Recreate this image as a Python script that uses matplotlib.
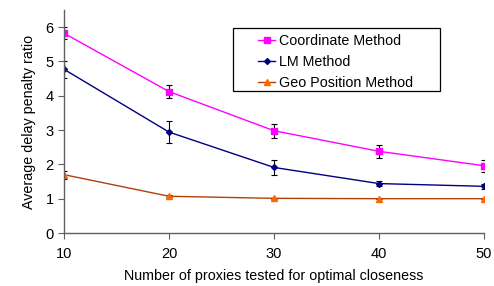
import matplotlib.pyplot as plt
from matplotlib.patches import Rectangle
import numpy as np

# データ
proxies = [10, 20, 30, 40, 50]
coord = [5.82, 4.12, 2.98, 2.38, 1.96]
coord_err = [0.18, 0.2, 0.2, 0.19, 0.17]
lm = [4.77, 2.94, 1.91, 1.44, 1.36]
lm_err = [0.25, 0.33, 0.21, 0.08, 0.07]
geo = [1.70, 1.07, 1.01, 1.0, 1.0]
geo_err = [0.12, 0.03, 0.02, 0.01, 0.01]

plt.rcParams['font.family'] = ['Liberation Sans', 'DejaVu Sans']
plt.rcParams['font.size'] = 9

fig = plt.figure(figsize=(4.94, 2.86), dpi=100)
ax = fig.add_axes([0.1296, 0.1853, 0.8504, 0.78])

ekw = dict(ecolor='black', elinewidth=0.8, capsize=2, capthick=0.8)
c1 = ax.errorbar(proxies, coord, yerr=coord_err, color='#FF00FF', marker='s', ms=4,
                 lw=1, label='Coordinate Method', **ekw)
c2 = ax.errorbar(proxies, lm, yerr=lm_err, color='#000080', marker='D', ms=3,
                 lw=1, label='LM Method', **ekw)
c3 = ax.errorbar(proxies, geo, yerr=geo_err, color='#B0400A', marker='^', ms=4,
                 mfc='#FF6600', mec='#FF6600', lw=1, label='Geo Position Method', **ekw)

ax.set_xlim(10, 50)
ax.set_ylim(0, 6.5)
ax.set_xticks(proxies)
ax.set_yticks(np.arange(0, 7, 1))
for s in ['top', 'right']:
    ax.spines[s].set_visible(False)
for s in ['left', 'bottom']:
    ax.spines[s].set_color('#606060')
    ax.spines[s].set_linewidth(1)
ax.tick_params(colors='#606060', labelcolor='black', length=4, labelsize=10.5)
ax.tick_params(axis='x', pad=6)

ax.set_xlabel('Number of proxies tested for optimal closeness', fontsize=10.3, labelpad=6)
ax.set_ylabel('Average delay penalty ratio', fontsize=10.3, labelpad=7)

# 凡例（枠は別に描く）
handles = [c1[0], c2[0], c3[0]]
labels = ['Coordinate Method', 'LM Method', 'Geo Position Method']
leg = fig.legend(handles, labels, loc='upper left',
                 bbox_to_anchor=(258 / 494, 1 - 34 / 286), fontsize=10.3,
                 frameon=False, handlelength=1.2, handletextpad=0.3,
                 borderpad=0, borderaxespad=0, labelspacing=0.5)
fig.patches.append(Rectangle((233 / 494, 1 - 91 / 286), 207 / 494, 63 / 286,
                             transform=fig.transFigure, fill=False,
                             edgecolor='black', lw=0.9))

plt.savefig('out.png', dpi=100)
